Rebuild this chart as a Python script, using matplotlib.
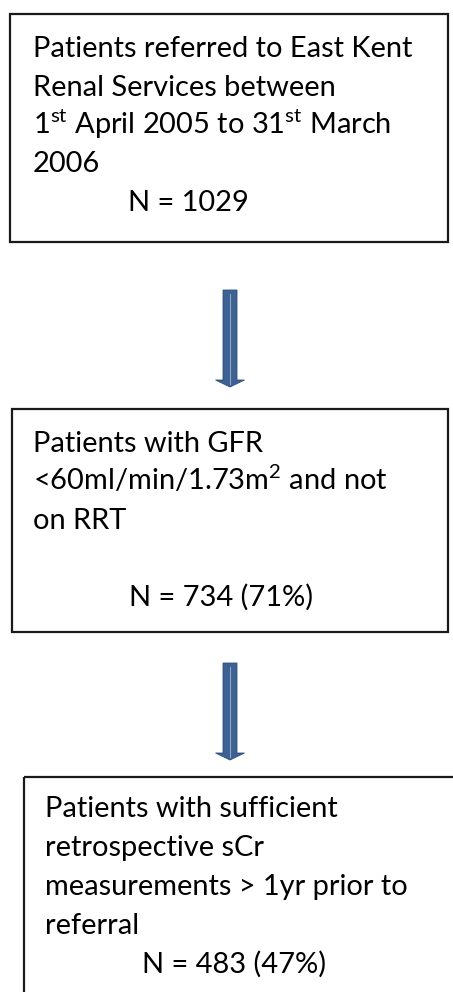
import matplotlib.pyplot as plt
from matplotlib.patches import Rectangle, Polygon

plt.rcParams['font.family'] = ['Lato', 'DejaVu Sans']
plt.rcParams['mathtext.fontset'] = 'custom'
plt.rcParams['mathtext.rm'] = 'Lato'

# Flow chart content
stage_lines = [
    ["Patients referred to East Kent", "Renal Services between",
     r"1$^{\rm st}$ April 2005 to 31$^{\rm st}$ March", "2006"],
    ["Patients with GFR", r"<60ml/min/1.73m$^{\rm 2}$ and not", "on RRT", ""],
    ["Patients with sufficient", "retrospective sCr",
     "measurements > 1yr prior to", "referral"],
]
stage_n = [1029, 734, 483]
stage_pct = [None, 71, 47]

# Layout in pixel coordinates (x0, y0, x1, y1)
boxes = [(10, 14, 448, 242), (12, 409, 448, 632), (24, 777, 470, 1010)]
text_x = [33, 33, 45]
first_base = [57, 452, 817]
line_gap = [38.5, 38.5, 39]
n_x = [128, 129, 142]
arrows = [(230, 290, 387), (230, 663, 760)]

fig = plt.figure(figsize=(4.53, 9.92), dpi=100)
ax = fig.add_axes([0, 0, 1, 1])
ax.set_xlim(0, 453)
ax.set_ylim(992, 0)
ax.axis('off')

fs = 20.9
for i, (x0, y0, x1, y1) in enumerate(boxes):
    ax.add_patch(Rectangle((x0, y0), x1 - x0, y1 - y0, fill=False,
                           edgecolor='#1a1a1a', linewidth=1.6))
    y = first_base[i]
    for line in stage_lines[i]:
        if line:
            ax.text(text_x[i], y, line, fontsize=fs, color='black',
                    ha='left', va='baseline')
        y += line_gap[i]
    label = f"N = {stage_n[i]}"
    if stage_pct[i] is not None:
        label += f" ({stage_pct[i]}%)"
    ax.text(n_x[i], y, label, fontsize=fs, color='black', ha='left', va='baseline')

# Down arrows between boxes
for cx, top, bottom in arrows:
    shaft_w = 7
    head_w = 14.5
    head_h = 7
    pts = [(cx - shaft_w, top), (cx + shaft_w, top), (cx + shaft_w, bottom - head_h),
           (cx + head_w, bottom - head_h), (cx, bottom), (cx - head_w, bottom - head_h),
           (cx - shaft_w, bottom - head_h)]
    ax.add_patch(Polygon(pts, closed=True, facecolor='#3d6192',
                         edgecolor='#2f5080', linewidth=0.6))
    ax.plot([cx, cx], [top + 4, bottom - 3], color='#8fa8c8', linewidth=0.8)

fig.savefig('out.png', dpi=100)
